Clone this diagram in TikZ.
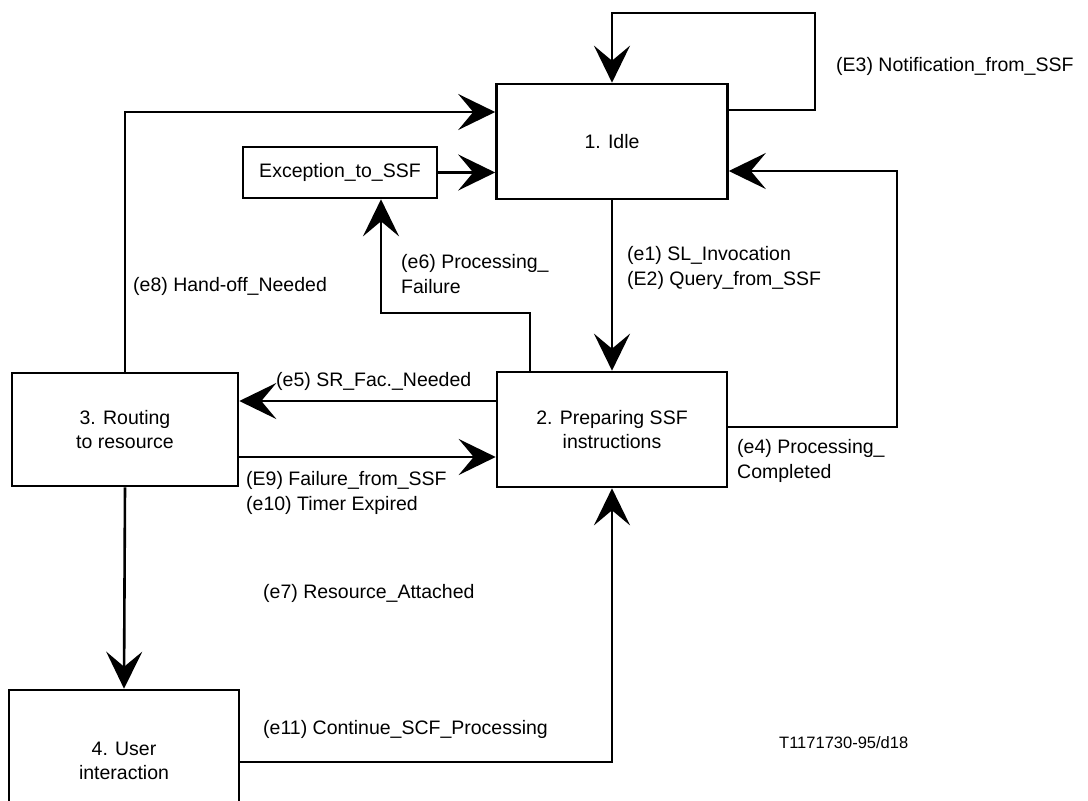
\documentclass[tikz,border=0pt]{standalone}
\usepackage{fontspec}
\setmainfont{Liberation Sans}
\usetikzlibrary{arrows.meta}
\begin{document}
\begin{tikzpicture}[x=1pt,y=-1pt,
  every node/.style={font=\fontsize{19.5}{24.5}\selectfont},
  statebox/.style={draw, line width=2.6pt, align=center, inner sep=0pt},
  flow/.style={line width=2.6pt, -{Stealth[length=37pt,width=36pt,inset=15pt]}},
  evlabel/.style={anchor=west, align=left, inner sep=0pt}]
\useasboundingbox (0,0) rectangle (1088,801);
\clip (0,0) rectangle (1088,801);

% states
\node[statebox, minimum width=231pt, minimum height=115pt] (idle) at (612,141.5) {1. Idle};
\node[statebox, minimum width=230pt, minimum height=115pt] (prep) at (612,429.5) {2. Preparing SSF\\instructions};
\node[statebox, minimum width=226pt, minimum height=113pt] (route) at (125,429.5) {3. Routing\\to resource};
\node[statebox, minimum width=230pt, minimum height=142pt] (user) at (124,761) {4. User\\interaction};
\node[statebox, minimum width=194pt, minimum height=51pt] (exc) at (340,172.5) {Exception\_to\_SSF};

% helper points for the orthogonal connectors
\coordinate (loopR) at (815,13);
\coordinate (y110) at (0,110);
\coordinate (doneR) at (897,171);
\coordinate (y427) at (0,427);
\coordinate (y112) at (0,112);
\coordinate (failX) at (530,313);
\coordinate (excX) at (381,0);
\coordinate (y401) at (0,401);
\coordinate (y457) at (0,457);
\coordinate (y762) at (0,762);

% connectors
\draw[flow] (idle.east |- y110) -| (loopR) -| (idle.north);
\draw[flow] (idle.south) -- (prep.north);
\draw[flow] (prep.east |- y427) -| (doneR) -- (idle.east |- doneR);
\draw[flow] (exc.east) -- (idle.west |- exc.east);
\draw[flow] (route.north) |- (idle.west |- y112);
\draw[flow] (prep.north -| failX) |- (failX) -| (exc.south -| excX);
\draw[flow] (prep.west |- y401) -- (route.east |- y401);
\draw[flow] (route.east |- y457) -- (prep.west |- y457);
\draw[flow] (route.south) -- (user.north);
\draw[flow] (user.east |- y762) -| (prep.south);

% event labels
\node[evlabel] (lE3) at (836,66) {(E3) Notification\_from\_SSF};
\node[evlabel] (le1) at (627,268) {(e1) SL\_Invocation\\(E2) Query\_from\_SSF};
\node[evlabel] (le8) at (133,286) {(e8) Hand-off\_Needed};
\node[evlabel] (le6) at (401,274) {(e6) Processing\_\\Failure};
\node[evlabel] (le5) at (276,381) {(e5) SR\_Fac.\_Needed};
\node[evlabel] (le4) at (737,461) {(e4) Processing\_\\Completed};
\node[evlabel] (lE9) at (246,493) {(E9) Failure\_from\_SSF\\(e10) Timer Expired};
\node[evlabel] (le7) at (263,593) {(e7) Resource\_Attached};
\node[evlabel] (le11) at (263,729) {(e11) Continue\_SCF\_Processing};
\node[evlabel, font=\fontsize{16.5}{20}\selectfont] (ref) at (779,743) {T1171730-95/d18};
\end{tikzpicture}
\end{document}
